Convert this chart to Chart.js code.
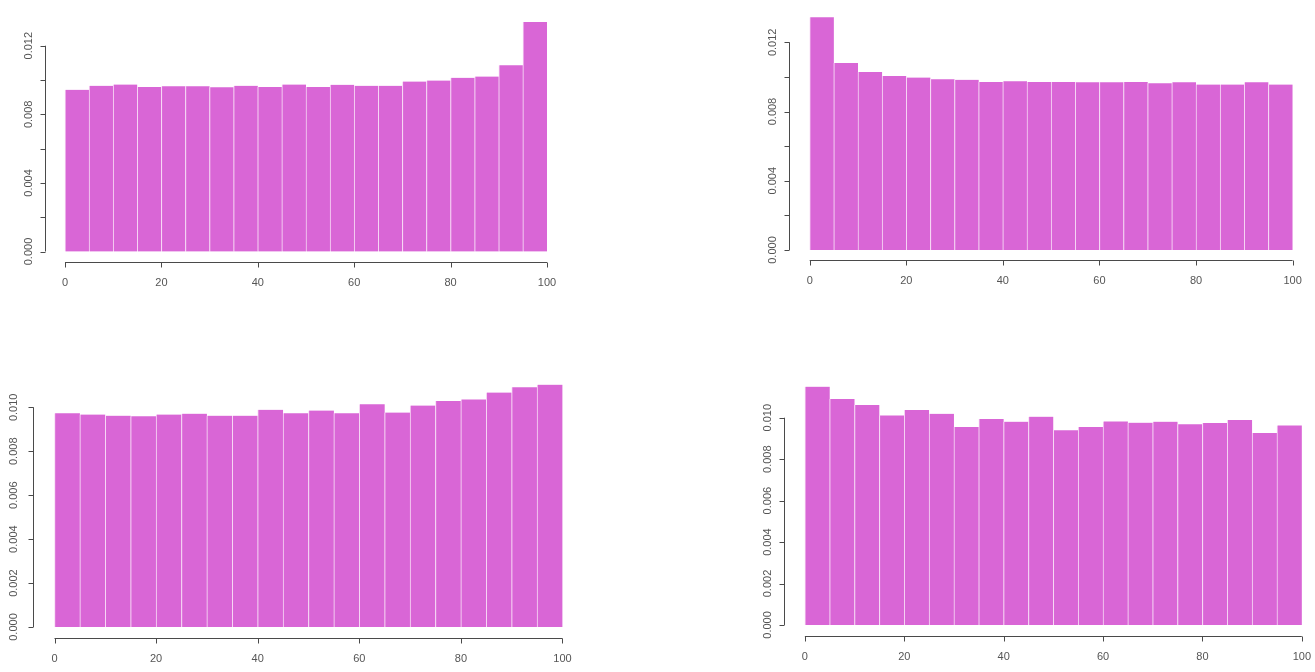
<!DOCTYPE html>
<html>
<head>
<meta charset="utf-8">
<script src="https://cdn.jsdelivr.net/npm/chart.js@4.4.1/dist/chart.umd.min.js"></script>
<style>
    html, body { margin: 0; padding: 0; background: #fff; overflow: hidden; }
    body { width: 1315px; height: 672px; position: relative; }
    canvas { position: absolute; }
</style>
</head>
<body>
<canvas id="hist1" width="650" height="330" style="left:0px;top:0px"></canvas>
<canvas id="hist2" width="575" height="330" style="left:740px;top:0px"></canvas>
<canvas id="hist3" width="650" height="332" style="left:0px;top:340px"></canvas>
<canvas id="hist4" width="600" height="332" style="left:740px;top:340px"></canvas>
<script>
// bin midpoints (bins of width 5 from 0 to 100)
const binMids = [2.5, 7.5, 12.5, 17.5, 22.5, 27.5, 32.5, 37.5, 42.5, 47.5,
    52.5, 57.5, 62.5, 67.5, 72.5, 77.5, 82.5, 87.5, 92.5, 97.5];

// densities
const density1 = [0.00943, 0.00966, 0.00974, 0.00960, 0.00964, 0.00964, 0.00958, 0.00966, 0.00960, 0.00974,
    0.00960, 0.00972, 0.00966, 0.00966, 0.00991, 0.00997, 0.01013, 0.01020, 0.01086, 0.01339];
const density2 = [0.01345, 0.01081, 0.01029, 0.01006, 0.00996, 0.00987, 0.00983, 0.00971, 0.00975, 0.00971,
    0.00971, 0.00969, 0.00969, 0.00971, 0.00963, 0.00969, 0.00956, 0.00956, 0.00969, 0.00956];
const density3 = [0.00973, 0.00967, 0.00962, 0.00959, 0.00967, 0.00971, 0.00962, 0.00962, 0.00989, 0.00973,
    0.00985, 0.00973, 0.01014, 0.00976, 0.01008, 0.01029, 0.01036, 0.01067, 0.01091, 0.01103];
const density4 = [0.01150, 0.01090, 0.01061, 0.01011, 0.01037, 0.01019, 0.00955, 0.00994, 0.00981, 0.01005,
    0.00939, 0.00955, 0.00982, 0.00976, 0.00981, 0.00968, 0.00974, 0.00989, 0.00926, 0.00963];

// axis ticks
const xTicks = [0, 20, 40, 60, 80, 100];
const yTicksTop = [0, 0.002, 0.004, 0.006, 0.008, 0.010, 0.012];
const yLabelsTop = ['0.000', '', '0.004', '', '0.008', '', '0.012'];
const yTicksBottom = [0, 0.002, 0.004, 0.006, 0.008, 0.010];
const yLabelsBottom = ['0.000', '0.002', '0.004', '0.006', '0.008', '0.010'];

const barColor = '#d966d6';
const axisColor = '#4a4a4a';
const textColor = '#555555';

// R style axes: lines only span first..last tick, ticks point outwards
const rAxes = {
    id: 'rAxes',
    afterDraw(chart, args, opts) {
        const ctx = chart.ctx;
        const xs = chart.scales.x;
        const ys = chart.scales.y;
        const area = chart.chartArea;
        ctx.save();
        ctx.strokeStyle = axisColor;
        ctx.lineWidth = 1;
        ctx.fillStyle = textColor;
        ctx.font = '11px "Liberation Sans", Arial, sans-serif';

        // x axis
        const xAxisY = Math.round(area.bottom + 1) + 0.5;
        ctx.beginPath();
        ctx.moveTo(xs.getPixelForValue(xTicks[0]), xAxisY);
        ctx.lineTo(xs.getPixelForValue(xTicks[xTicks.length - 1]), xAxisY);
        xTicks.forEach(t => {
            const px = Math.round(xs.getPixelForValue(t)) + 0.5;
            ctx.moveTo(px, xAxisY);
            ctx.lineTo(px, xAxisY + 5);
        });
        ctx.stroke();
        ctx.textAlign = 'center';
        ctx.textBaseline = 'middle';
        xTicks.forEach(t => {
            ctx.fillText(String(t), xs.getPixelForValue(t), xAxisY + 20);
        });

        // y axis
        const yAxisX = Math.round(area.left - 1) + 0.5;
        const yt = opts.ticks;
        ctx.beginPath();
        ctx.moveTo(yAxisX, ys.getPixelForValue(yt[0]));
        ctx.lineTo(yAxisX, ys.getPixelForValue(yt[yt.length - 1]));
        yt.forEach(t => {
            const py = Math.round(ys.getPixelForValue(t)) + 0.5;
            ctx.moveTo(yAxisX, py);
            ctx.lineTo(yAxisX - 5, py);
        });
        ctx.stroke();
        yt.forEach((t, i) => {
            const label = opts.labels[i];
            if (!label) return;
            ctx.save();
            ctx.translate(yAxisX - opts.labelGap, ys.getPixelForValue(t));
            ctx.rotate(-Math.PI / 2);
            ctx.fillText(label, 0, 0);
            ctx.restore();
        });
        ctx.restore();
    }
};

const makeHistogram = (id, values, yTicks, yLabels, padding, labelGap) => {
    const maxVal = Math.max(...values);
    const points = binMids.map((m, i) => ({ x: m, y: values[i] }));
    new Chart(document.getElementById(id), {
        type: 'bar',
        data: {
            datasets: [{
                data: points,
                backgroundColor: barColor,
                borderColor: '#f7d9f5',
                borderWidth: { left: 1, right: 0, top: 0, bottom: 0 },
                borderSkipped: false,
                barPercentage: 1,
                categoryPercentage: 1,
            }]
        },
        options: {
            responsive: false,
            animation: false,
            layout: { padding: padding },
            plugins: {
                legend: { display: false },
                tooltip: { enabled: false },
                rAxes: { ticks: yTicks, labels: yLabels, labelGap: labelGap },
            },
            scales: {
                x: { type: 'linear', min: -4, max: 104, offset: false, display: false },
                y: { min: -0.04 * maxVal, max: 1.04 * maxVal, display: false },
            }
        },
        plugins: [rAxes]
    });
};

makeHistogram('hist1', density1, yTicksTop, yLabelsTop,
    { left: 45.7, right: 83.7, top: 12.7, bottom: 69.3 }, 17);
makeHistogram('hist2', density2, yTicksTop, yLabelsTop,
    { left: 50.4, right: 3.1, top: 7.9, bottom: 70.7 }, 17);
makeHistogram('hist3', density3, yTicksBottom, yLabelsBottom,
    { left: 34.2, right: 67.2, top: 35, bottom: 35.3 }, 20);
makeHistogram('hist4', density4, yTicksBottom, yLabelsBottom,
    { left: 45, right: 18.3, top: 37.1, bottom: 37.5 }, 17);
</script>
</body>
</html>
